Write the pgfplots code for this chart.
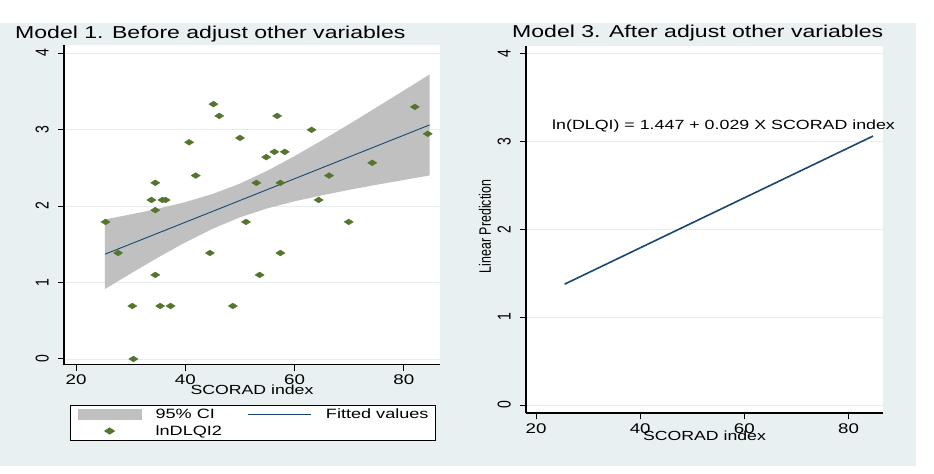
\documentclass[border=0pt]{standalone}
\usepackage{pgfplots}
\pgfplotsset{compat=1.18}
\usepackage{fontspec}
\setmainfont{Liberation Sans}[FakeStretch=1.34]
\newfontfamily\plainsans{Liberation Sans}
\definecolor{bgc}{HTML}{E9F0F2}
\definecolor{bandc}{HTML}{C0C0C0}
\definecolor{navyc}{HTML}{1A476F}
\definecolor{greenc}{HTML}{55752F}
\definecolor{gridc}{HTML}{E6ECEF}
\pgfplotsset{
  statastyle/.style={
    scale only axis,
    axis lines*=left,
    axis line style={line width=1.3bp, black},
    tick align=outside,
    major tick length=6bp,
    tick style={line width=1bp, black},
    axis background/.style={fill=white},
    ymajorgrids,
    grid style={gridc, line width=0.8bp},
    xtick={20,40,60,80}, ytick={0,1,2,3,4},
    /pgf/number format/assume math mode=true,
    xticklabel style={font=\fontsize{14bp}{16bp}\selectfont, inner sep=0pt, anchor=north, yshift=-4.5bp},
    yticklabel style={font=\plainsans\fontsize{14bp}{16bp}\selectfont, inner sep=0pt, xshift=-9bp, xscale=1.33, rotate=90, anchor=south},
    xlabel style={font=\fontsize{13.2bp}{15bp}\selectfont, at={(axis description cs:0.5,0)}, anchor=base, inner sep=0pt},
  },
  bandleg/.style={legend image code/.code={\fill[bandc] (0bp,-5.5bp) rectangle (64bp,5.5bp);}},
  lineleg/.style={legend image code/.code={\draw[navyc, line width=1bp] (0bp,0bp) -- (63bp,0bp);}},
  markleg/.style={legend image code/.code={\path[draw=none, fill=none] (0bp,0bp) -- (64bp,0bp); \draw[##1, draw=none] plot[only marks] coordinates {(32bp,0bp)};}},
}
\begin{document}
\begin{tikzpicture}
\path[use as bounding box] (0bp,0bp) rectangle (934bp,-474bp);
\fill[bgc] (0bp,-23bp) rectangle (916bp,-466bp);
\node[anchor=base west, inner sep=0pt, font=\fontsize{17.2bp}{20bp}\selectfont] at (15bp,-38bp) {Model 1. Before adjust other variables};
\node[anchor=base west, inner sep=0pt, font=\fontsize{17.2bp}{20bp}\selectfont] at (512bp,-37.5bp) {Model 3. After adjust other variables};

\begin{axis}[statastyle,
  at={(64bp,-364.5bp)}, anchor=south west,
  width=376bp, height=319.5bp,
  xmin=17.8, xmax=86.6, ymin=-0.072, ymax=4.105,
  xlabel={SCORAD index},
  xlabel style={yshift=-30.3bp},
  legend columns=2,
  legend cell align=left,
  legend style={at={(axis description cs:0.016,-0.1205)}, anchor=north west, yshift=-2bp,
    draw=black, line width=1.2bp, fill=white,
    inner xsep=7bp, inner ysep=3.5bp,
    column sep=14bp, row sep=5bp,
    /tikz/every even column/.append style={column sep=26bp},
    nodes={inner sep=0pt, font=\fontsize{13.5bp}{15bp}\selectfont}},
]
\addplot[fill=bandc, draw=none, bandleg]
  coordinates {(25.3,1.825) (30,1.890) (35,1.965) (40,2.051) (45,2.157) (50,2.293) (55,2.461) (60,2.652) (65,2.858) (70,3.071) (75,3.290) (80,3.511) (84.7,3.720)
  (84.7,2.400) (80,2.341) (75,2.278) (70,2.212) (65,2.140) (60,2.062) (55,1.969) (50,1.852) (45,1.703) (40,1.525) (35,1.327) (30,1.117) (25.3,0.915)} --cycle;
\addlegendentry{95\% CI}
\addplot[navyc, line width=0.9bp, lineleg]
  coordinates {(25.3,1.370) (40,1.788) (60,2.357) (84.7,3.060)};
\addlegendentry{Fitted values}
\addplot[only marks, mark=diamond*, mark size=2.9bp, color=greenc,
  mark options={xscale=2.1, fill=greenc, draw=greenc}, markleg]
  coordinates {
  (25.4,1.792) (27.7,1.386) (30.3,0.693) (30.5,0) (33.8,2.079) (34.5,2.303) (34.5,1.946) (34.5,1.099)
  (35.4,0.693) (35.8,2.079) (36.4,2.079) (37.3,0.693) (40.7,2.833) (41.9,2.398) (44.5,1.386) (45.15,3.332)
  (46.2,3.178) (48.7,0.693) (50.0,2.890) (51.1,1.792) (53.0,2.303) (53.6,1.099) (54.8,2.639) (56.3,2.708)
  (56.8,3.178) (57.4,2.303) (57.4,1.386) (58.2,2.708) (63.1,2.996) (64.4,2.079) (66.3,2.398) (69.9,1.792)
  (74.2,2.565) (82.0,3.296) (84.35,2.944)};
\addlegendentry{lnDLQI2}
\end{axis}

\begin{axis}[statastyle,
  at={(526bp,-413bp)}, anchor=south west,
  width=357bp, height=367bp,
  xmin=18.08, xmax=86.6, ymin=-0.091, ymax=4.084,
  xlabel={SCORAD index},
  xlabel style={yshift=-27.5bp},
  ylabel={Linear Prediction},
  every axis y label/.style={at={(axis description cs:0,0.5)}, anchor=center, inner sep=0pt,
    xshift=-41bp, yshift=3bp, xscale=1.33, rotate=90, font=\plainsans\fontsize{12.4bp}{14bp}\selectfont},
]
\addplot[navyc, line width=1.6bp] coordinates {(25.5,1.375) (40,1.788) (60,2.357) (84.7,3.060)};
\end{axis}
\node[anchor=base west, inner sep=0pt, font=\fontsize{13.3bp}{15bp}\selectfont] at (552bp,-129.5bp) {ln(DLQI) = 1.447 + 0.029 X SCORAD index};
\end{tikzpicture}
\end{document}
